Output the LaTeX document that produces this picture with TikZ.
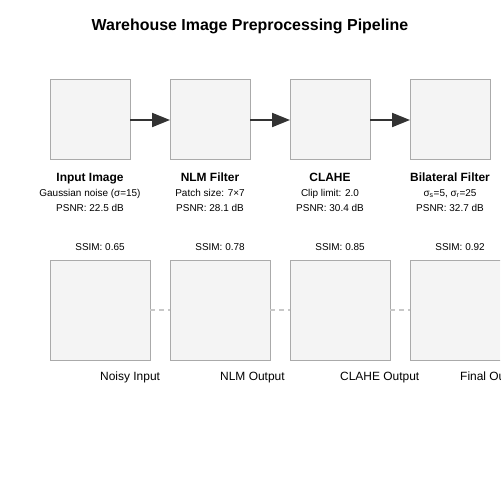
\documentclass[tikz,border=0pt]{standalone}
\usepackage{fontspec}
\setmainfont{Liberation Sans}
\usetikzlibrary{arrows.meta, positioning}
\definecolor{boxline}{HTML}{AAAAAA}
\definecolor{boxfill}{HTML}{F4F4F4}
\definecolor{flowcol}{HTML}{333333}
\definecolor{linkcol}{HTML}{C8C8C8}
\tikzset{
  stage/.style={draw=boxline, fill=boxfill, line width=1bp,
    minimum size=80bp, inner sep=0pt, outer sep=0pt}, % processing step
  result/.style={stage, minimum size=100bp}, % output image
  flow/.style={draw=flowcol, line width=2bp,
    -{Triangle[length=18bp, width=14bp]}},
  link/.style={draw=linkcol, line width=1.5bp, dash pattern=on 5bp off 4bp},
  stagename/.style={inner sep=0pt, font=\fontsize{12}{14}\selectfont\bfseries},
  stageinfo/.style={inner sep=0pt, font=\fontsize{10}{12}\selectfont},
  resultname/.style={inner sep=0pt, font=\fontsize{12}{14}\selectfont},
}

\begin{document}
\begin{tikzpicture}[x=1bp, y=-1bp]
    \useasboundingbox (0,0) rectangle (500,500);
    \clip (0,0) rectangle (500,500);

    \node[inner sep=0pt, font=\fontsize{16}{19}\selectfont\bfseries] (title) at (250,26)
      {Warehouse Image Preprocessing Pipeline};

    % pipeline steps
    \node[stage] (input) at (90,120) {};
    \node[stage, right=40bp of input] (nlm) {};
    \node[stage, right=40bp of nlm] (clahe) {};
    \node[stage, right=40bp of clahe] (bilat) {};

    \draw[flow] (input) -- (nlm);
    \draw[flow] (nlm) -- (clahe);
    \draw[flow] (clahe) -- (bilat);

    \node[stagename, below=21bp of input, anchor=base] (inputname) {Input Image};
    \node[stageinfo, below=15bp of inputname.base, anchor=base] (inputparam) {Gaussian noise (σ=15)};
    \node[stageinfo, below=15bp of inputparam.base, anchor=base] (inputpsnr) {PSNR: 22.5 dB};

    \node[stagename, below=21bp of nlm, anchor=base] (nlmname) {NLM Filter};
    \node[stageinfo, below=15bp of nlmname.base, anchor=base] (nlmparam) {Patch size: 7×7};
    \node[stageinfo, below=15bp of nlmparam.base, anchor=base] (nlmpsnr) {PSNR: 28.1 dB};

    \node[stagename, below=21bp of clahe, anchor=base] (clahename) {CLAHE};
    \node[stageinfo, below=15bp of clahename.base, anchor=base] (claheparam) {Clip limit: 2.0};
    \node[stageinfo, below=15bp of claheparam.base, anchor=base] (clahepsnr) {PSNR: 30.4 dB};

    \node[stagename, below=21bp of bilat, anchor=base] (bilatname) {Bilateral Filter};
    \node[stageinfo, below=15bp of bilatname.base, anchor=base] (bilatparam)
      {σ\textsubscript{s}=5, σ\textsubscript{r}=25};
    \node[stageinfo, below=15bp of bilatparam.base, anchor=base] (bilatpsnr) {PSNR: 32.7 dB};

    % results
    \node[result] (noisy) at (100,310) {};
    \node[result, right=20bp of noisy] (nlmout) {};
    \node[result, right=20bp of nlmout] (claheout) {};
    \node[result, right=20bp of claheout] (final) {};

    \draw[link] (noisy) -- (nlmout);
    \draw[link] (nlmout) -- (claheout);
    \draw[link] (claheout) -- (final);

    \node[stageinfo, above=10bp of noisy, anchor=base] (noisyssim) {SSIM: 0.65};
    \node[stageinfo, above=10bp of nlmout, anchor=base] (nlmssim) {SSIM: 0.78};
    \node[stageinfo, above=10bp of claheout, anchor=base] (clahessim) {SSIM: 0.85};
    \node[stageinfo, above=10bp of final, anchor=base] (finalssim) {SSIM: 0.92};

    \node[resultname, below=20.5bp of noisy, anchor=base west] (noisyname) {Noisy Input};
    \node[resultname, below=20.5bp of nlmout, anchor=base west] (nlmoutname) {NLM Output};
    \node[resultname, below=20.5bp of claheout, anchor=base west] (claheoutname) {CLAHE Output};
    \node[resultname, below=20.5bp of final, anchor=base west] (finalname) {Final Output};

  \end{tikzpicture}
\end{document}
